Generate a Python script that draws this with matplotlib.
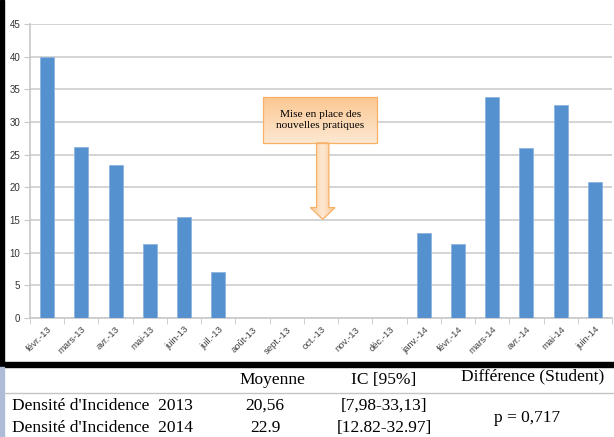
import numpy as np
import matplotlib.pyplot as plt
from matplotlib.patches import Rectangle, Polygon
from matplotlib.colors import LinearSegmentedColormap

mois = ['févr.-13', 'mars-13', 'avr.-13', 'mai-13', 'juin-13', 'juil.-13', 'août-13',
        'sept.-13', 'oct.-13', 'nov.-13', 'déc.-13', 'janv.-14', 'févr.-14', 'mars-14',
        'avr.-14', 'mai-14', 'juin-14']
densite = [40.0, 26.2, 23.4, 11.3, 15.5, 7.0, 0, 0, 0, 0, 0, 13.0, 11.3, 33.8, 26.0, 32.6, 20.8]
y_ticks = [0, 5, 10, 15, 20, 25, 30, 35, 40, 45]

table_cols = ['Moyenne', 'IC [95%]', 'Différence (Student)']
table_rows = ["Densité d'Incidence  2013", "Densité d'Incidence  2014"]
moyennes = ['20,56', '22.9']
ic95 = ['[7,98-33,13]', '[12.82-32.97]']
p_value = 'p = 0,717'

W, H = 614, 437
fig = plt.figure(figsize=(W / 100, H / 100), dpi=100)
fig.patch.set_facecolor('white')

# --- graphique ---
ax = fig.add_axes([30 / W, 1 - 318 / H, 582 / W, 294 / H])
x = np.arange(len(mois))
ax.bar(x, densite, width=0.41, color='#5591cf', edgecolor='#8db3df', linewidth=0.6, zorder=3)
ax.set_yticks(y_ticks)
ax.yaxis.grid(True, color='#d4d4d4', linewidth=1.4, zorder=0)
ax.set_axisbelow(True)
for s in ['top', 'right']:
    ax.spines[s].set_visible(False)
for s in ['left', 'bottom']:
    ax.spines[s].set_color('#c8c8c8')
    ax.spines[s].set_linewidth(1.2)
ax.tick_params(axis='y', length=4, color='#c8c8c8', labelsize=7, labelcolor='#333333', pad=3)
ax.set_xticks(x)
ax.set_xticklabels(mois, rotation=45, ha='right', rotation_mode='anchor',
                   fontsize=6.8, color='#404040')
ax.tick_params(axis='x', length=0, pad=5)
ax.set_xticks(np.arange(len(mois) + 1) - 0.5, minor=True)
ax.tick_params(axis='x', which='minor', length=4, color='#c8c8c8')
for lab in ax.get_yticklabels() + ax.get_xticklabels():
    lab.set_family('Liberation Sans')

# annotation : boîte + flèche avec dégradé orange
bx0, bx1, by0, by1 = 6.30, 9.65, 26.8, 33.8
box = Rectangle((bx0, by0), bx1 - bx0, by1 - by0, facecolor='none',
                edgecolor='#f7b066', linewidth=0.9, zorder=6)
ax.add_patch(box)
cm_box = LinearSegmentedColormap.from_list('b', ['#fde8d2', '#fcc892'])
im = ax.imshow(np.linspace(0, 1, 100).reshape(-1, 1), extent=(bx0, bx1, by1, by0),
               cmap=cm_box, aspect='auto', zorder=5)
im.set_clip_path(box)
ax.text((bx0 + bx1) / 2, (by0 + by1) / 2, 'Mise en place des\nnouvelles pratiques',
        ha='center', va='center', fontsize=8.2, family='Liberation Serif',
        linespacing=1.25, zorder=7)
cx = 8.05
sw, hw = 0.18, 0.36
y_head, y_tip = 16.9, 15.1
arrow = Polygon([(cx - sw, by0), (cx + sw, by0), (cx + sw, y_head), (cx + hw, y_head),
                 (cx, y_tip), (cx - hw, y_head), (cx - sw, y_head)], closed=True,
                facecolor='none', edgecolor='#f7b066', linewidth=0.9, zorder=6)
ax.add_patch(arrow)
cm_arr = LinearSegmentedColormap.from_list('a', ['#fcc892', '#fde8d2', '#fcc892'])
im2 = ax.imshow(np.linspace(0, 1, 100).reshape(1, -1), extent=(cx - hw, cx + hw, y_tip, by0),
                cmap=cm_arr, aspect='auto', zorder=5)
im2.set_clip_path(arrow)
ax.set_xlim(-0.5, len(mois) - 0.5)
ax.set_ylim(0, 45)

# --- cadre et tableau ---
deco = fig.add_axes([0, 0, 1, 1], zorder=-1)
deco.set_xlim(0, W)
deco.set_ylim(H, 0)
deco.axis('off')
deco.add_patch(Rectangle((0, 0), 4, 363, color='black'))
deco.add_patch(Rectangle((0, 362), W, 5, color='black'))
deco.add_patch(Rectangle((0, 367), 4, H - 367, color='#aebcd8'))
deco.plot([4, W], [392.5, 392.5], color='#c4c4c4', linewidth=1)

tx = fig.add_axes([0, 0, 1, 1], zorder=5)
tx.set_xlim(0, W)
tx.set_ylim(H, 0)
tx.axis('off')
tfont = dict(family='Liberation Serif', fontsize=12.5, color='black')
col_x = [272, 384, 533]
tx.text(col_x[0], 380, table_cols[0], ha='center', va='center', **tfont)
tx.text(col_x[1], 380, table_cols[1], ha='center', va='center', **tfont)
tx.text(col_x[2], 376, table_cols[2], ha='center', va='center', **tfont)
for i, (r, m, ic) in enumerate(zip(table_rows, moyennes, ic95)):
    yy = 406 + 22 * i
    tx.text(12, yy, r, ha='left', va='center', **tfont)
    tx.text(265, yy, m, ha='center', va='center', **tfont)
    tx.text(384, yy, ic, ha='center', va='center', **tfont)
tx.text(527, 418, p_value, ha='center', va='center', **tfont)

fig.savefig('out.png', dpi=100)
